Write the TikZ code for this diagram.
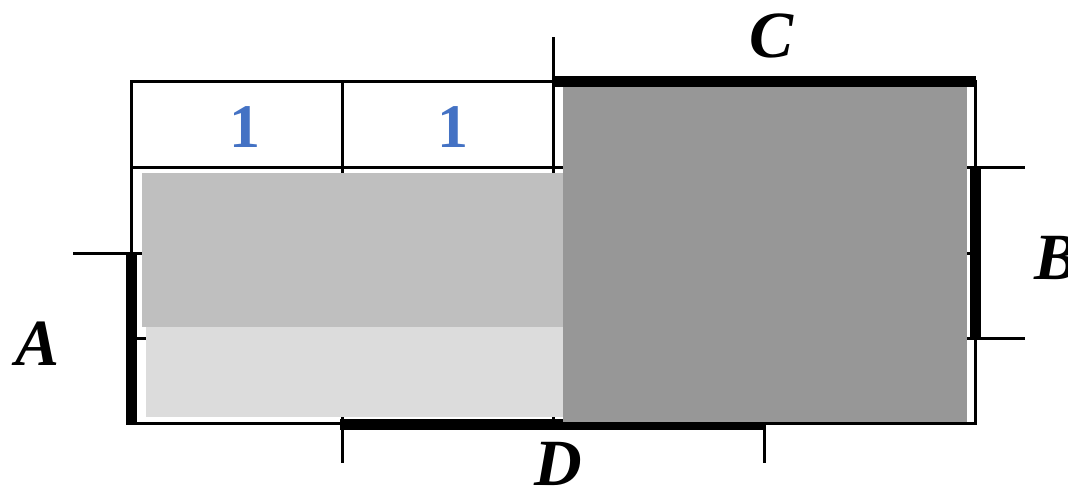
\documentclass[tikz,border=0pt]{standalone}
\usepackage{fontspec}
\setmainfont{Liberation Serif}
\definecolor{numblue}{HTML}{4472C4}
\definecolor{midgray}{HTML}{BFBFBF}
\definecolor{palegray}{HTML}{DCDCDC}
\definecolor{deepgray}{HTML}{979797}
\begin{document}
\begin{tikzpicture}[x=1pt,y=-1pt,
  gridline/.style={draw=black,line width=3pt},
  bar/.style={draw=black,line width=11pt},
  lbl/.style={inner sep=0pt,font=\fontsize{66}{66}\selectfont\bfseries\itshape},
  num/.style={inner sep=0pt,text=numblue,font=\fontsize{62}{62}\selectfont\bfseries}]
\useasboundingbox (0,0) rectangle (1068,488);
% grid
\draw[gridline] (131,81) rectangle (975,423);
\foreach \x in {342,553,764} \draw[gridline] (\x,81) -- (\x,423);
\foreach \y in {167,253,338} \draw[gridline] (131,\y) -- (975,\y);
% extension lines
\draw[gridline] (73,253) -- (131,253);
\draw[gridline] (975,167) -- (1025,167);
\draw[gridline] (975,338) -- (1025,338);
\draw[gridline] (553,37) -- (553,81);
\draw[gridline] (342,423) -- (342,463);
\draw[gridline] (764,423) -- (764,463);
% thick D (partly under the dark block)
\draw[bar] (340,424) -- (765,424);
% blocks
\fill[midgray] (142,173) rectangle (563,327);
\fill[palegray] (146,327) rectangle (563,417);
\fill[deepgray] (563,87) rectangle (967,422);
% thick bars
\draw[bar] (553,81) -- (976,81);
\draw[bar] (975,167) -- (975,338);
\draw[bar] (131,252) -- (131,425);
% labels
\node[num] (n1) at (245,127) {1};
\node[num] (n2) at (453,127) {1};
\node[lbl] (A) at (38,344) {A};
\node[lbl] (B) at (1056,258) {B};
\node[lbl] (C) at (772,36) {C};
\node[lbl] (D) at (558,464) {D};
\end{tikzpicture}
\end{document}
